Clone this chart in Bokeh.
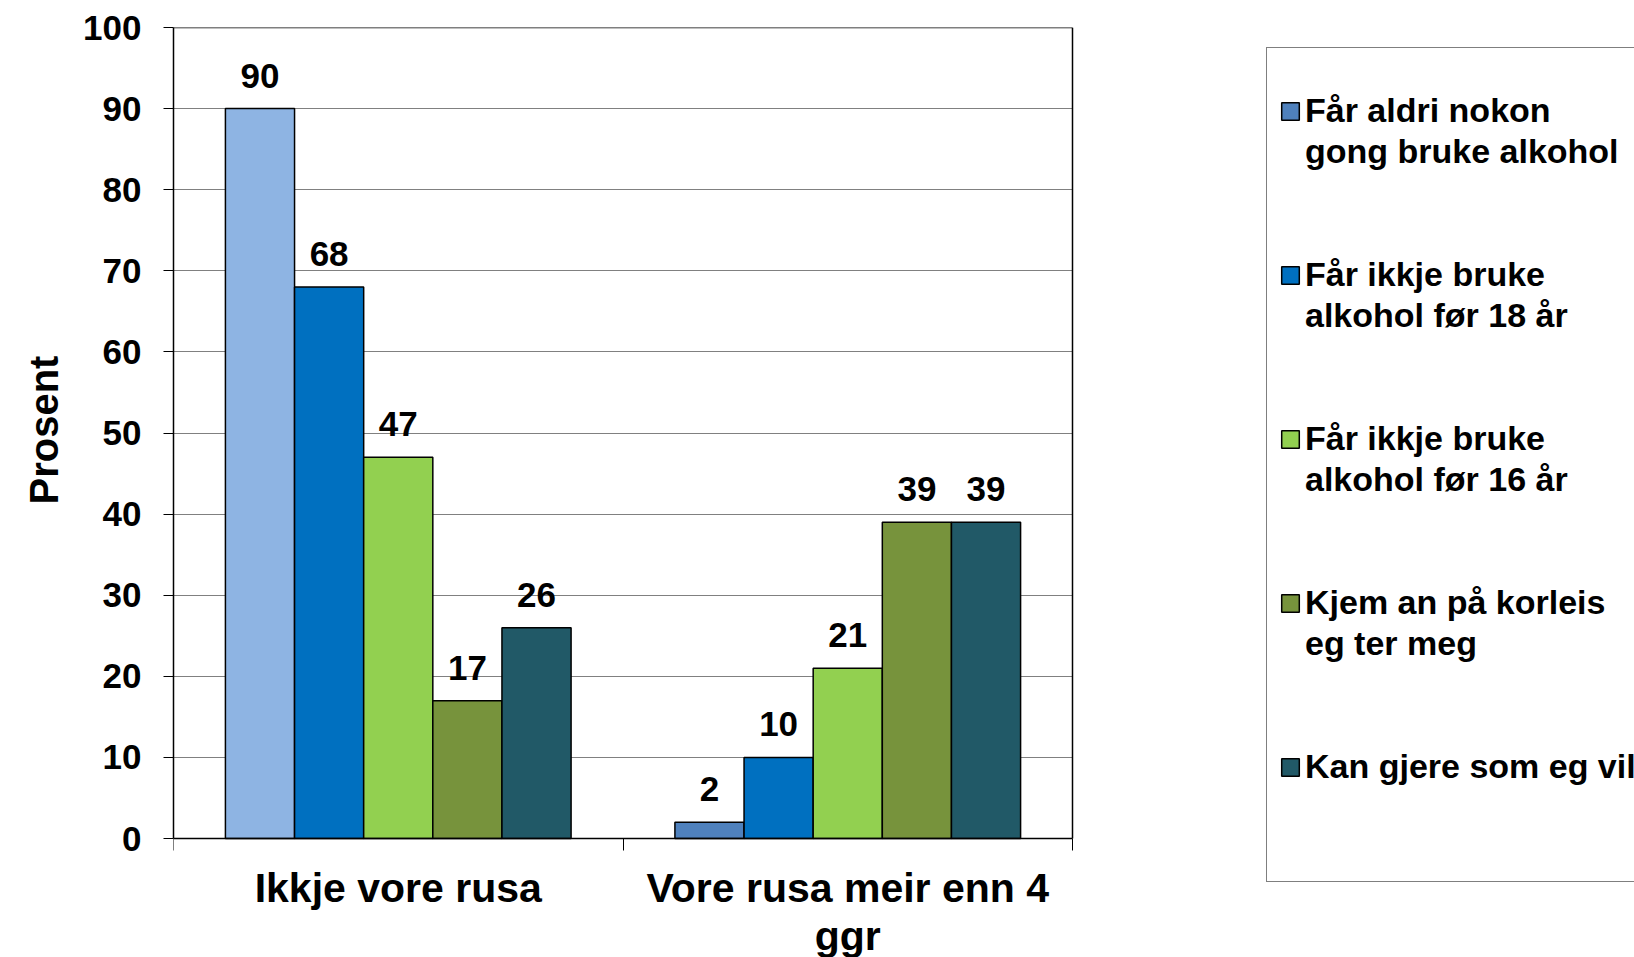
from bokeh.plotting import figure
from bokeh.models import (ColumnDataSource, FixedTicker, Legend, LegendItem,
                          Range1d, CustomJSTickFormatter, Title)
from bokeh.embed import file_html
from bokeh.resources import INLINE
from bokeh.core.properties import value

# ---- data ----
groups = ["Ikkje vore rusa", "Vore rusa meir enn 4\nggr"]
series = ["Får aldri nokon\ngong bruke alkohol",
          "Får ikkje bruke\nalkohol før 18 år",
          "Får ikkje bruke\nalkohol før 16 år",
          "Kjem an på korleis\neg ter meg",
          "Kan gjere som eg vil"]
values = [[90, 2], [68, 10], [47, 21], [17, 39], [26, 39]]
bar_colors = [["#8EB4E3", "#4F81BD"], ["#0070C0", "#0070C0"], ["#92D050", "#92D050"],
              ["#77933C", "#77933C"], ["#215967", "#215967"]]
y_ticks = list(range(0, 101, 10))
y_title = "Prosent"

FONT = "Liberation Sans"
bw = 0.1538

# ---- layout (pixels) ----
W, H = 1634, 957
LEFT, TOP = 173, 27
CHART_W, CHART_H = 899, 811          # the bar-chart box
n = len(groups)
ymax = y_ticks[-1]
frame_w, frame_h = W - LEFT, H - TOP
x_end = n * frame_w / CHART_W
y_start = -ymax * (frame_h - CHART_H) / CHART_H

p = figure(width=W, height=H, x_range=Range1d(0, x_end), y_range=Range1d(y_start, ymax),
           output_backend="svg", toolbar_location=None,
           min_border_left=LEFT, min_border_right=0, min_border_top=TOP, min_border_bottom=0)
p.background_fill_color = "white"
p.border_fill_color = "white"
p.outline_line_color = None
p.xgrid.grid_line_color = None
p.ygrid.ticker = FixedTicker(ticks=y_ticks[1:-1])
p.ygrid.grid_line_color = "#808080"
p.ygrid.grid_line_width = 1
try:
    p.ygrid.cross_bounds = (0, n)
    grid_ok = True
except Exception:
    grid_ok = False
    p.ygrid.grid_line_color = None
if not grid_ok:
    gy = y_ticks[1:-1]
    p.segment(x0=[0] * len(gy), x1=[n] * len(gy), y0=gy, y1=gy,
              line_color="#808080", line_width=1)

# top and right border of the chart box
p.segment(x0=[0, n], y0=[ymax, 0], x1=[n, n], y1=[ymax, ymax],
          line_color="black", line_width=1.5)

# invisible renderer used for legend rows that carry only text
blank = p.vbar(x="x", top="top", width=0.1, fill_alpha=0, line_alpha=0,
               source=ColumnDataSource(dict(x=[], top=[])))

items = []
for si, (name, vals, cols) in enumerate(zip(series, values, bar_colors)):
    xs = [gi + 0.5 + (si - 2) * bw for gi in range(n)]
    src = ColumnDataSource(dict(x=xs, top=vals, color=cols, lab=[str(v) for v in vals]))
    r = p.vbar(x="x", top="top", bottom=0, width=bw, fill_color="color",
               line_color="black", line_width=1.5, source=src)
    p.text(x="x", y="top", text="lab", source=src, text_align="center",
           text_baseline="middle", y_offset=-33, text_font=value(FONT),
           text_font_style="bold", text_font_size="35px", text_color="black")
    lines = name.split("\n")
    items.append(LegendItem(label=lines[0], renderers=[r], index=1))
    for ln in lines[1:]:
        items.append(LegendItem(label=ln, renderers=[blank]))
    n_extra = (4 - len(lines)) if si < len(series) - 1 else 2
    for _ in range(n_extra):
        items.append(LegendItem(label=" ", renderers=[blank]))

# y axis
ya = p.yaxis[0]
ya.bounds = (0, ymax)
ya.ticker = FixedTicker(ticks=y_ticks, minor_ticks=[])
ya.major_tick_out = 10
ya.major_tick_in = 0
ya.major_tick_line_color = "black"
ya.major_label_standoff = 22
ya.major_label_text_font = FONT
ya.major_label_text_font_style = "bold"
ya.major_label_text_font_size = "35px"
ya.major_label_text_color = "black"
ya.axis_line_color = "black"
ya.axis_line_width = 1.5

# y title, placed along the chart box (text starts 453 px above the frame bottom)
ytitle = Title(text=y_title, align="left", offset=453, vertical_align="top",
               standoff=26, text_font=FONT, text_font_style="bold",
               text_font_size="40px", text_color="black")
p.add_layout(ytitle, "left")

# x axis, drawn at y = 0
xa = p.xaxis[0]
xa.fixed_location = 0
xa.bounds = (0, n)
xa.ticker = FixedTicker(ticks=[g + 0.5 for g in range(n)], minor_ticks=list(range(n + 1)))
xa.formatter = CustomJSTickFormatter(args=dict(labels=groups),
                                     code="return labels[Math.floor(tick)];")
xa.major_tick_out = 0
xa.major_tick_in = 0
xa.minor_tick_out = 12
xa.minor_tick_in = 0
xa.minor_tick_line_color = "black"
xa.major_label_standoff = 14
xa.major_label_text_font = FONT
xa.major_label_text_font_style = "bold"
xa.major_label_text_font_size = "41px"
xa.major_label_text_line_height = 1.05
xa.major_label_text_color = "black"
xa.axis_line_color = "black"
xa.axis_line_width = 1.5

legend = Legend(items=items, location=(1093, 75))
legend.label_text_font = FONT
legend.label_text_font_style = "bold"
legend.label_text_font_size = "34px"
legend.label_text_line_height = 1.0
legend.label_text_color = "black"
legend.label_height = 41
legend.glyph_width = 22
legend.glyph_height = 22
legend.label_standoff = 4
legend.padding = 12
legend.spacing = 0
legend.margin = 0
legend.title = " "
legend.title_text_font_size = "16px"
legend.title_standoff = 12
legend.border_line_color = "black"
legend.border_line_width = 1
legend.background_fill_color = "white"
p.add_layout(legend, "center")

open("out.html", "w").write(file_html(p, INLINE))
